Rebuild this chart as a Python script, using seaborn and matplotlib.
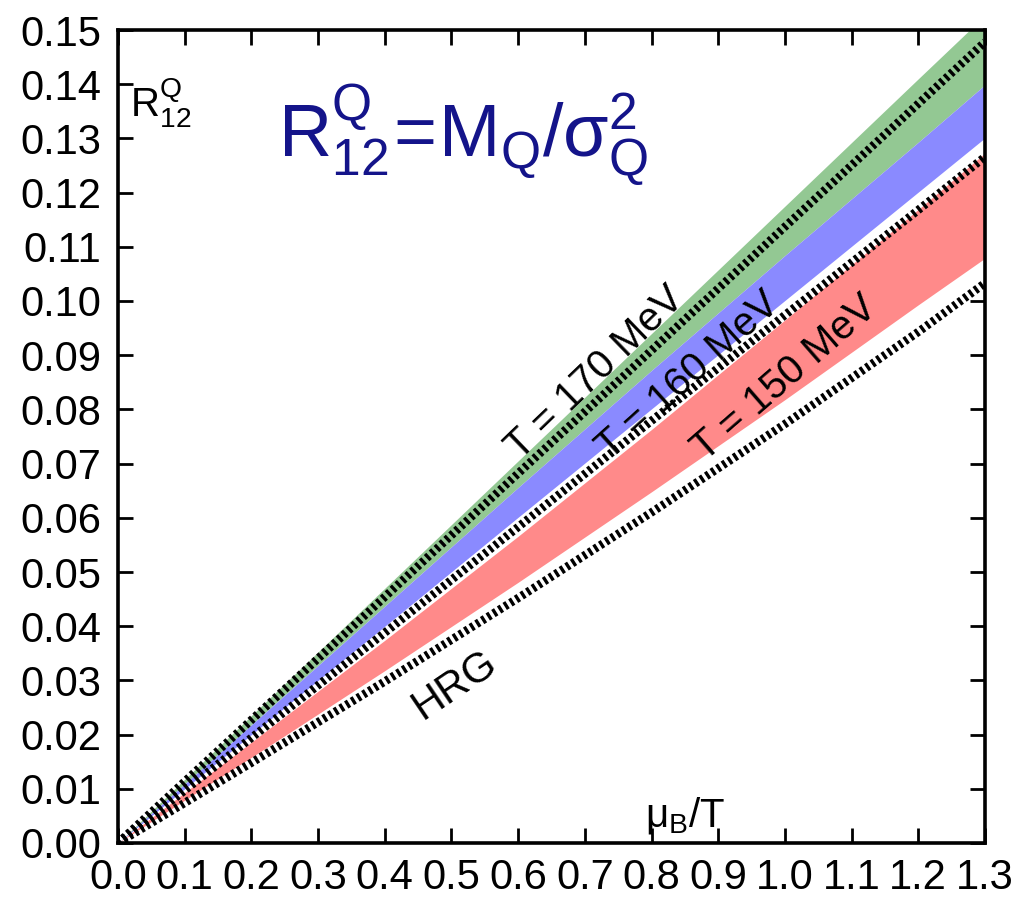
import numpy as np
import pandas as pd
import matplotlib
matplotlib.use("Agg")
import matplotlib.pyplot as plt
import seaborn as sns

# mu_B / T grid
mu_over_T = [0.0, 0.2, 0.4, 0.6, 0.8, 1.0, 1.2, 1.3]

# lattice bands (upper / lower edges) for the three temperatures
band_170_hi = [0.0, 0.0235, 0.0470, 0.0705, 0.0940, 0.1175, 0.1410, 0.1527]
band_170_lo = [0.0, 0.0218, 0.0437, 0.0656, 0.0872, 0.1084, 0.1293, 0.1399]
band_160_hi = band_170_lo
band_160_lo = [0.0, 0.0200, 0.0400, 0.0601, 0.0801, 0.1001, 0.1201, 0.1301]
band_150_hi = [0.0, 0.0186, 0.0374, 0.0566, 0.0763, 0.0965, 0.1169, 0.1273]
band_150_lo = [0.0, 0.0158, 0.0318, 0.0481, 0.0648, 0.0818, 0.0993, 0.1079]

# hadron resonance gas curves
hrg_170 = [0.0, 0.0227, 0.0454, 0.0682, 0.0909, 0.1137, 0.1364, 0.1478]
hrg_160 = [0.0, 0.0194, 0.0388, 0.0583, 0.0779, 0.0974, 0.1168, 0.1266]
hrg_150 = [0.0, 0.0148, 0.0298, 0.0452, 0.0610, 0.0773, 0.0943, 0.1033]

x_ticks = [0.0, 0.1, 0.2, 0.3, 0.4, 0.5, 0.6, 0.7, 0.8, 0.9, 1.0, 1.1, 1.2, 1.3]
y_ticks = [0.00, 0.01, 0.02, 0.03, 0.04, 0.05, 0.06, 0.07, 0.08, 0.09, 0.10,
           0.11, 0.12, 0.13, 0.14, 0.15]

band_labels = ["T = 170 MeV", "T = 160 MeV", "T = 150 MeV"]

sns.set_theme(style="ticks")
plt.rcParams["font.family"] = ["Liberation Sans", "DejaVu Sans"]
plt.rcParams["mathtext.fontset"] = "custom"
plt.rcParams["mathtext.rm"] = "Liberation Sans"
plt.rcParams["mathtext.it"] = "Liberation Sans"
plt.rcParams["mathtext.sf"] = "Liberation Sans"

fig = plt.figure(figsize=(10.14, 9.01), dpi=100)
ax = fig.add_axes([118 / 1014, 1 - 843 / 901, 867 / 1014, 813 / 901])

green = "#93c893"
blue = "#8a8aff"
red = "#ff8a8a"

ax.fill_between(mu_over_T, band_170_lo, band_170_hi, color=green, lw=0, zorder=1)
ax.fill_between(mu_over_T, band_160_lo, band_160_hi, color=blue, lw=0, zorder=1)
ax.fill_between(mu_over_T, band_150_lo, band_150_hi, color=red, lw=0, zorder=1)

hrg = pd.DataFrame({
    "mu": mu_over_T * 3,
    "R": hrg_170 + hrg_160 + hrg_150,
    "T": ["170"] * len(mu_over_T) + ["160"] * len(mu_over_T) + ["150"] * len(mu_over_T),
})
sns.lineplot(data=hrg, x="mu", y="R", units="T", estimator=None, color="black",
             lw=6, ax=ax, zorder=3, legend=False)
for line in ax.get_lines():
    line.set_dashes((0.4, 0.4))
    line.set_dash_capstyle("butt")

ax.set_xlim(0, 1.3)
ax.set_ylim(0, 0.15)
ax.set_xticks(x_ticks)
ax.set_xticklabels([f"{v:.1f}" for v in x_ticks])
ax.set_yticks(y_ticks)
ax.set_yticklabels([f"{v:.2f}" for v in y_ticks])
ax.set_xlabel("")
ax.set_ylabel("")

for s in ax.spines.values():
    s.set_linewidth(2.6)
    s.set_color("black")
    s.set_visible(True)
ax.tick_params(axis="both", which="major", direction="in", length=11, width=2,
               top=True, right=True, labelsize=30, colors="black")
ax.tick_params(axis="x", pad=11)
ax.tick_params(axis="y", pad=12)

# annotations
ax.text(0.018, 0.1365, r"$\mathregular{R^{Q}_{12}}$", fontsize=29, color="black",
        ha="left", va="center")
ax.text(0.240, 0.1305, r"$\mathregular{R^{Q}_{12}\!=\!M_{Q}/\sigma^{2}_{Q}}$",
        fontsize=53, color="#14148a", ha="left", va="center")
ax.text(0.790, 0.0050, r"$\mathregular{\mu_{B}/T}$", fontsize=29, color="black",
        ha="left", va="center")

label_pos = [(0.715, 0.0868, 44), (0.855, 0.0862, 42), (1.0, 0.0858, 41)]
for txt, (lx, ly, rot) in zip(band_labels, label_pos):
    ax.text(lx, ly, txt, fontsize=29, rotation=rot, rotation_mode="anchor",
            ha="center", va="center", color="black", zorder=4)
ax.text(0.505, 0.0292, "HRG", fontsize=30, rotation=34, rotation_mode="anchor",
        ha="center", va="center", color="black", zorder=4)

fig.savefig("out.png", dpi=100, facecolor="white")
